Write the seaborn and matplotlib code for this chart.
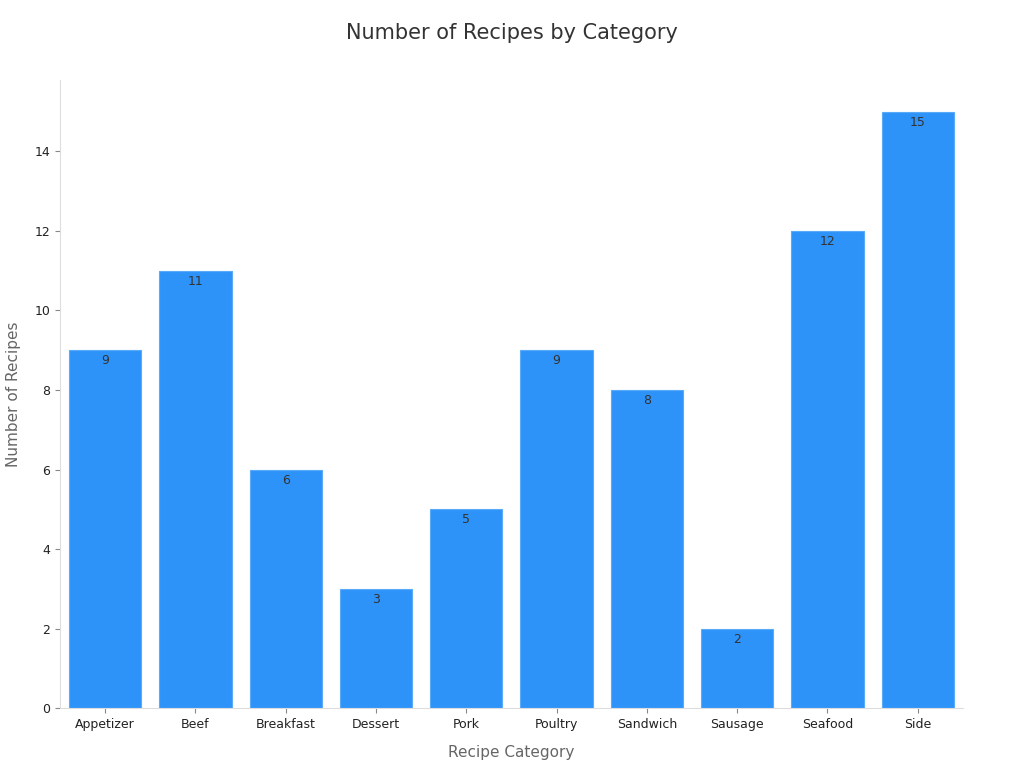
import matplotlib
matplotlib.use("Agg")
import matplotlib.pyplot as plt
import seaborn as sns
import pandas as pd

categories = ["Appetizer","Beef","Breakfast","Dessert","Pork","Poultry","Sandwich","Sausage","Seafood","Side"]
counts = [9,11,6,3,5,9,8,2,12,15]
df = pd.DataFrame({"cat":categories,"n":counts})

fig = plt.figure(figsize=(10.24,7.68), dpi=100)
ax = fig.add_axes([0.0586,0.078,0.8817,0.818])
sns.barplot(data=df, x="cat", y="n", color="#2E93F9", saturation=1, width=0.8, ax=ax,
            edgecolor="#5aaafa", linewidth=0.8)
for i, v in enumerate(counts):
    ax.text(i, v-0.1, str(v), ha="center", va="top", fontsize=9, color="#333333")
ax.set_xlim(-0.5,9.5)
ax.set_ylim(0,15.8)
ax.set_yticks(range(0,16,2))
ax.set_xlabel("Recipe Category", fontsize=11, color="#666666", labelpad=10)
ax.set_ylabel("Number of Recipes", fontsize=11, color="#666666", labelpad=10)
ax.tick_params(labelsize=9, colors="#222222")
ax.tick_params(axis="both", color="#888888")
for s in ["top","right"]:
    ax.spines[s].set_visible(False)
for s in ["left","bottom"]:
    ax.spines[s].set_color("#dddddd")
fig.suptitle("Number of Recipes by Category", y=0.97, fontsize=15, color="#333333")
fig.savefig("out.png", dpi=100)
